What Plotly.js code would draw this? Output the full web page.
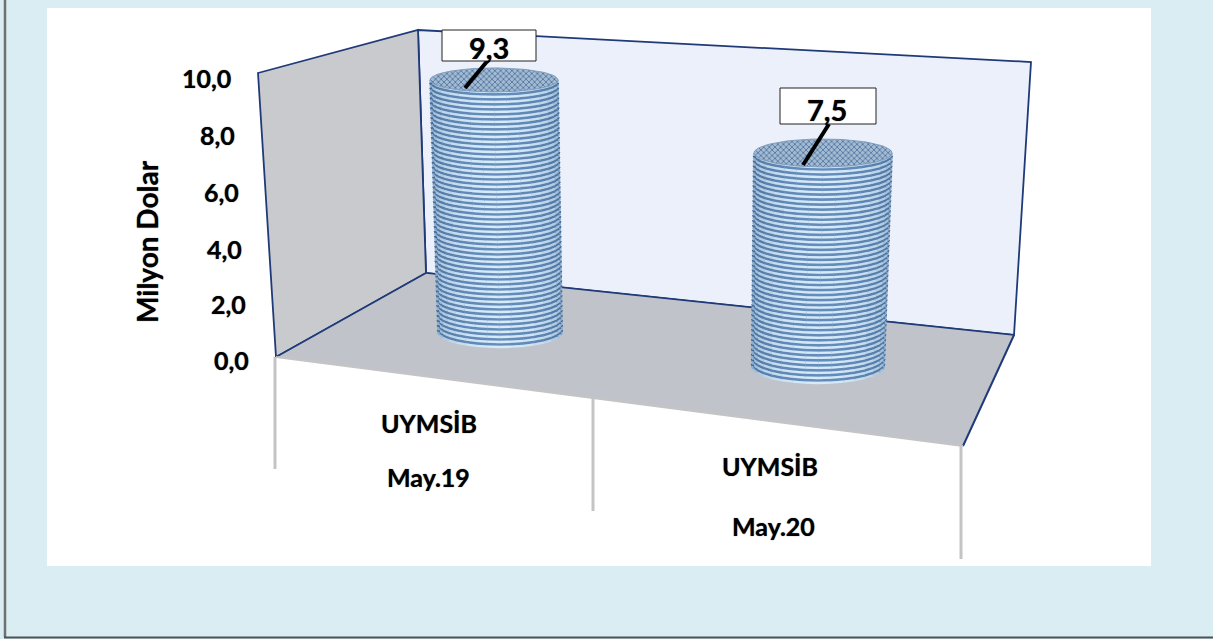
<!DOCTYPE html>
<html>
<head>
<meta charset="utf-8">
<script src="https://cdn.plot.ly/plotly-3.0.1.min.js"></script>
<style>html,body{margin:0;padding:0;background:#daedf3;overflow:hidden}#c{width:1213px;height:639px}</style>
</head>
<body>
<div id="c"></div>
<script>
// chart data
const categories = ["UYMSİB", "UYMSİB"];
const periods = ["May.19", "May.20"];
const values = [9.3, 7.5];
const valueLabels = ["9,3", "7,5"];
const tickLabels = ["0,0", "2,0", "4,0", "6,0", "8,0", "10,0"];
const axisTitle = "Milyon Dolar";

// tick labels follow the slanted wall edge of the pseudo-3D frame
const tickRightPx = [248, 245, 241, 238, 234, 230];
const tickMidPx = [360, 304, 249, 192, 135, 78];

// picture geometry: x and the pixel axis y2 share screen units
const W = 1213, H = 639;
const pxPerUnit = 28.3, zeroPx = 362;
const toV = p => (zeroPx - p) / pxPerUnit;

const cyl = [
  {bx: 500, by: 332, brx: 62, bry: 15, tx: 494, trx: 64, try_: 12, pxU: 27.1,
   box: [442, 536, 30, 61], textAt: [489, 47], lead: [465, 88, 489, 59], lx: [428.5, 428.5], ly: [423, 477]},
  {bx: 818, by: 366, brx: 66, bry: 17, tx: 823, trx: 69, try_: 14, pxU: 28.4,
   box: [780, 876, 88, 124], textAt: [827, 109], lead: [803, 165, 829, 124], lx: [770, 773], ly: [466, 526]}
];

const traces = [];
function lerp(a, b, t) { return a + (b - a) * t; }
function mix(c1, c2, t) {
  return "rgb(" + c1.map((v, i) => Math.round(lerp(v, c2[i], t))).join(",") + ")";
}

cyl.forEach((c, idx) => {
  const topPx = c.by - values[idx] * c.pxU;
  const span = c.by - topPx;
  // body silhouette
  const bx = [], by = [];
  for (let a = 0; a <= 60; a++) {
    const th = Math.PI * a / 60;
    bx.push(c.bx + c.brx * Math.cos(th)); by.push(toV(c.by + c.bry * Math.sin(th)));
  }
  for (let a = 60; a >= 0; a--) {
    const th = Math.PI * a / 60;
    bx.push(c.tx + c.trx * Math.cos(th)); by.push(toV(topPx + c.try_ * Math.sin(th)));
  }
  traces.push({x: bx, y: by, mode: "lines", fill: "toself", fillcolor: "#8fb0d0",
    line: {width: 0, color: "#8fb0d0"}, hoverinfo: "skip"});

  // horizontal rings, split into angular segments for the round shading
  const segs = 16, step = 4.9;
  const n = Math.floor(span / step);
  const dark0 = [62, 98, 140], dark1 = [100, 140, 186];
  const light0 = [125, 160, 196], light1 = [214, 234, 250];
  for (let s = 0; s < segs; s++) {
    const a0 = Math.PI * s / segs, a1 = Math.PI * (s + 1) / segs;
    const shade = Math.pow(Math.sin((a0 + a1) / 2), 0.7);
    [[0.5, dark0, dark1, 2.6], [0, light0, light1, 2.3]].forEach(k => {
      const xs = [], ys = [];
      for (let i = 0; i <= n; i++) {
        const t = (i + k[0]) / n;
        if (t > 1) continue;
        const cx = lerp(c.bx, c.tx, t), rx = lerp(c.brx, c.trx, t);
        const ry = lerp(c.bry, c.try_, t), cy = c.by - span * t;
        for (let q = 0; q <= 4; q++) {
          const th = lerp(a0, a1, q / 4);
          xs.push(cx + rx * Math.cos(th));
          ys.push(toV(cy + ry * Math.sin(th)));
        }
        xs.push(null); ys.push(null);
      }
      traces.push({x: xs, y: ys, mode: "lines", hoverinfo: "skip",
        line: {color: mix(k[1], k[2], shade), width: k[3]}});
    });
  }

  // top cap
  const tx = [], ty = [];
  for (let a = 0; a <= 80; a++) {
    const th = 2 * Math.PI * a / 80;
    tx.push(c.tx + c.trx * Math.cos(th)); ty.push(toV(topPx + c.try_ * Math.sin(th)));
  }
  traces.push({x: tx, y: ty, mode: "lines", fill: "toself", hoverinfo: "skip",
    fillcolor: "#8ea9c6",
    fillpattern: {shape: "x", size: 4, solidity: 0.4, fgcolor: "#54779f", bgcolor: "#a3bad3", fillmode: "replace"},
    line: {color: "#7f9dbd", width: 1}});

  // leader line from the label to the cylinder
  traces.push({x: [c.lead[0], c.lead[2]], y: [toV(c.lead[1]), toV(c.lead[3])],
    mode: "lines", line: {color: "#000", width: 4}, hoverinfo: "skip"});
});

const navy = "#1f3a78";
function poly(pts, fill, lineColor, lw) {
  return {type: "path", layer: "below", xref: "x", yref: "y2",
    path: "M" + pts.map(p => p.join(",")).join("L") + "Z",
    fillcolor: fill, line: {color: lineColor || "rgba(0,0,0,0)", width: lw || 0}};
}
function seg(x0, y0, x1, y1, color, w) {
  return {type: "line", layer: "below", xref: "x", yref: "y2", x0, y0, x1, y1, line: {color, width: w}};
}

const shapes = [
  poly([[47, 8], [1151, 8], [1151, 566], [47, 566]], "#ffffff"),
  poly([[418, 30], [1031, 62], [1014, 335], [426, 273]], "#ecf0fa", navy, 1.8),
  poly([[258, 73], [418, 30], [426, 273], [276, 357]], "#c9cacd", navy, 1.8),
  poly([[276, 357], [426, 273], [1014, 335], [963, 446]], "#c0c4ca"),
  seg(276, 357, 426, 273, navy, 1.5),
  seg(426, 273, 1014, 335, navy, 1.5),
  seg(1014, 335, 963, 446, navy, 2),
  seg(276, 357, 963, 446, "#c4c4c4", 2),
  seg(275, 357, 275, 469, "#c4c4c4", 3),
  seg(593, 399, 593, 511, "#c4c4c4", 3),
  seg(961, 446, 961, 559, "#c4c4c4", 3),
  seg(5, 0, 5, 637, "#6e7072", 2.5),
  seg(4, 637.5, 1213, 637.5, "#4f5254", 2)
];

const txtFont = "Lato, Carlito, 'Open Sans', sans-serif";
const heavy = "0 0 1px rgba(0,0,0,0.7)";
const annotations = [];
cyl.forEach((c, i) => {
  shapes.push({type: "rect", layer: "above", xref: "x", yref: "y2",
    x0: c.box[0], x1: c.box[1], y0: c.box[2], y1: c.box[3],
    fillcolor: "#fff", line: {color: "#222", width: 1}});
  annotations.push({xref: "x", yref: "y2", x: c.textAt[0], y: c.textAt[1],
    text: "<b>" + valueLabels[i] + "</b>", showarrow: false,
    font: {family: txtFont, size: 29, color: "#000", shadow: heavy}});
  annotations.push({xref: "x", yref: "y2", x: c.lx[0], y: c.ly[0], text: "<b>" + categories[i] + "</b>",
    showarrow: false, font: {family: txtFont, size: 25, color: "#000", shadow: heavy}});
  annotations.push({xref: "x", yref: "y2", x: c.lx[1], y: c.ly[1], text: "<b>" + periods[i] + "</b>",
    showarrow: false, font: {family: txtFont, size: 25, color: "#000", shadow: heavy}});
});
tickLabels.forEach((t, i) => {
  annotations.push({xref: "x", yref: "y2", x: tickRightPx[i], y: tickMidPx[i], xanchor: "right",
    xshift: 3, text: "<b>" + t + "</b>", showarrow: false,
    font: {family: txtFont, size: 25, color: "#000", shadow: heavy}});
});
annotations.push({xref: "x", yref: "y2", x: 147, y: 242, text: "<b>" + axisTitle + "</b>", textangle: -90,
  showarrow: false, font: {family: txtFont, size: 28, color: "#000", shadow: heavy}});

const layout = {
  width: W, height: H, margin: {l: 0, r: 0, t: 0, b: 0, pad: 0},
  paper_bgcolor: "#daedf3", plot_bgcolor: "rgba(0,0,0,0)", showlegend: false,
  xaxis: {range: [0, W], visible: false, fixedrange: true},
  yaxis: {range: [toV(H), toV(0)], visible: false, fixedrange: true},
  yaxis2: {range: [H, 0], overlaying: "y", visible: false, fixedrange: true},
  shapes, annotations, hovermode: false
};
// a hidden trace keeps the pixel axis alive
traces.push({x: [0], y: [0], yaxis: "y2", mode: "markers", marker: {opacity: 0}, hoverinfo: "skip"});
Plotly.newPlot("c", traces, layout, {displayModeBar: false, staticPlot: true});
</script>
</body>
</html>
